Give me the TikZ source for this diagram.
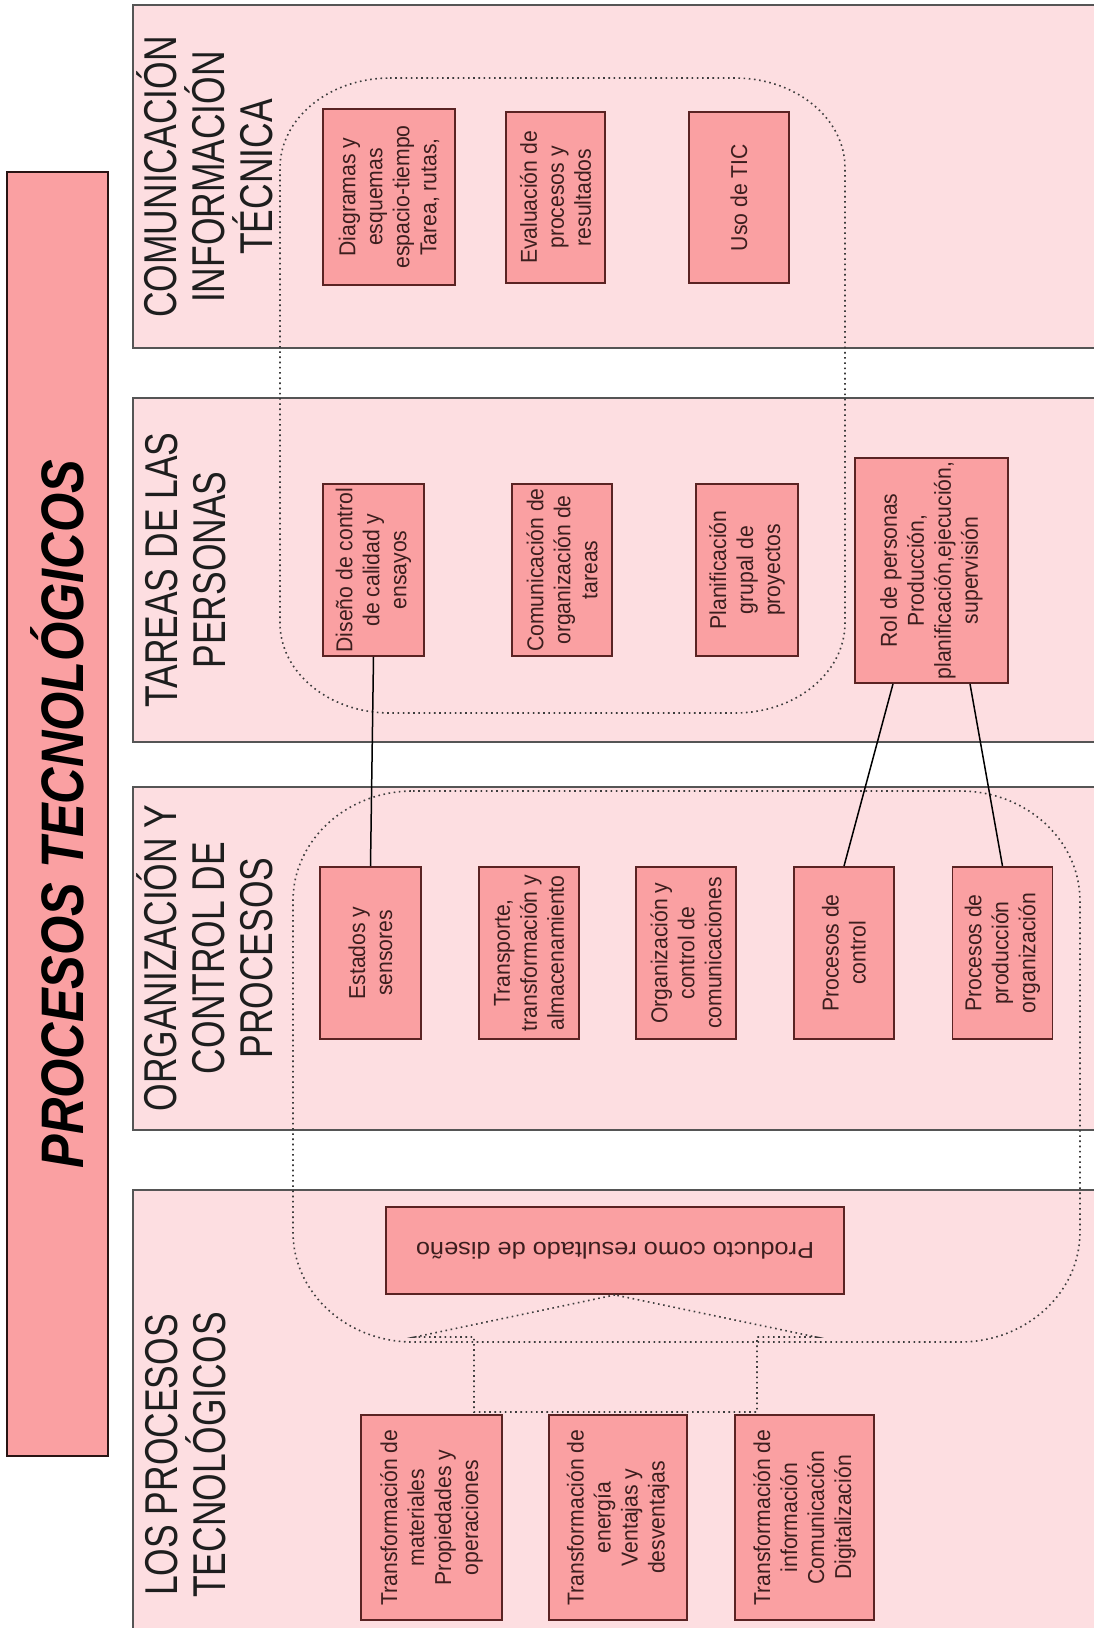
\documentclass[tikz,border=0pt]{standalone}
\usepackage{fontspec}
\setmainfont{Liberation Sans}
\newfontfamily\boxfont{Liberation Sans}[FakeStretch=0.92]
\newfontfamily\headfont{Liberation Sans}[FakeStretch=0.77]
\newfontfamily\titlefont{Liberation Sans}[FakeStretch=0.84]
\newfontfamily\prodfont{Liberation Sans}[FakeStretch=1.1]
\usetikzlibrary{calc}

\definecolor{panelfill}{RGB}{253,222,225}
\definecolor{panelline}{RGB}{85,85,85}
\definecolor{itemfill}{RGB}{250,160,162}
\definecolor{itemline}{RGB}{90,35,35}
\definecolor{itemtext}{RGB}{60,30,30}
\definecolor{dotcol}{RGB}{60,60,60}

\begin{document}
\begin{tikzpicture}[x=1pt,y=-1pt,
  panel/.style={draw=panelline, line width=2pt, fill=panelfill},
  item/.style={draw=itemline, line width=1.8pt, fill=itemfill, rotate=90,
    inner sep=0pt, align=center, text=itemtext,
    font=\boxfont\fontsize{23}{27}\selectfont},
  head/.style={rotate=90, anchor=north, inner sep=0pt, align=center,
    text={rgb,255:red,30;green,30;blue,30},
    font=\headfont\fontsize{46}{48}\selectfont},
  link/.style={draw=black, line width=1.5pt},
  dots/.style={draw=dotcol, line width=1.6pt, dash pattern=on 1.6pt off 3.6pt},
]
\useasboundingbox (0,0) rectangle (1094,1628);
\clip (0,0) rectangle (1094,1628);
\fill[white] (0,0) rectangle (1094,1628);

% title band
\node[draw={rgb,255:red,40;green,20;blue,20}, line width=2pt, fill=itemfill,
  rotate=90, minimum width=1284pt, minimum height=101pt, inner sep=0pt,
  font=\titlefont\bfseries\itshape\fontsize{60}{60}\selectfont]
  (title) at (57.5,814) {PROCESOS TECNOLÓGICOS};

% the four panels (open towards the right edge)
\draw[panel] (133,5) rectangle (1110,348);
\draw[panel] (133,398) rectangle (1110,742);
\draw[panel] (133,787) rectangle (1110,1130);
\draw[panel] (133,1190) rectangle (1110,1640);

% panel headings
\node[head] (h1) at (136,177) {COMUNICACIÓN\\INFORMACIÓN\\TÉCNICA};
\node[head] (h2) at (145,570) {TAREAS DE LAS\\PERSONAS};
\node[head] (h3) at (136,958) {ORGANIZACIÓN Y\\CONTROL DE\\PROCESOS};
\node[head] (h4) at (145,1455) {LOS PROCESOS\\TECNOLÓGICOS};

% dotted groupings
\draw[dots] (390,78) -- (735,78) .. controls (795.8,78) and (845,118.3) .. (845,168)
  -- (845,623) .. controls (845,672.7) and (795.8,713) .. (735,713)
  -- (390,713) .. controls (329.2,713) and (280,672.7) .. (280,623)
  -- (280,168) .. controls (280,118.3) and (329.2,78) .. (390,78) -- cycle;
\draw[dots] (413,791) -- (960,791) .. controls (1026.3,791) and (1080,840.2) .. (1080,901)
  -- (1080,1232) .. controls (1080,1292.8) and (1026.3,1342) .. (960,1342)
  -- (413,1342) .. controls (346.7,1342) and (293,1292.8) .. (293,1232)
  -- (293,901) .. controls (293,840.2) and (346.7,791) .. (413,791) -- cycle;

% boxes: communication
\node[item, minimum width=176pt, minimum height=132pt] (diag) at (389,197)
  {Diagramas y\\esquemas\\espacio-tiempo\\Tarea, rutas,};
\node[item, minimum width=171pt, minimum height=99pt] (eval) at (555.5,197.5)
  {Evaluación de\\procesos y\\resultados};
\node[item, minimum width=171pt, minimum height=100pt] (tic) at (739,197.5)
  {Uso de TIC};

% boxes: people's tasks
\node[item, minimum width=172pt, minimum height=101pt] (diseno) at (373.5,570)
  {Diseño de control\\de calidad y\\ensayos};
\node[item, minimum width=172pt, minimum height=100pt] (comorg) at (562,570)
  {Comunicación de\\organización de\\tareas};
\node[item, minimum width=172pt, minimum height=102pt] (plan) at (747,570)
  {Planificación\\grupal de\\proyectos};
\node[item, minimum width=225pt, minimum height=153pt] (rol) at (931.5,570.5)
  {Rol de personas\\Producción,\\planificación,ejecución,\\supervisión};

% boxes: process organisation and control
\node[item, minimum width=172pt, minimum height=101pt] (estados) at (370.5,953)
  {Estados y\\sensores};
\node[item, minimum width=172pt, minimum height=100pt] (transp) at (529,953)
  {Transporte,\\transformación y\\almacenamiento};
\node[item, minimum width=172pt, minimum height=100pt] (orgcom) at (686,953)
  {Organización y\\control de\\comunicaciones};
\node[item, minimum width=172pt, minimum height=100pt] (control) at (844,953)
  {Procesos de\\control};
\node[item, minimum width=172pt, minimum height=100pt] (produc) at (1002.5,953)
  {Procesos de\\producción\\organización};

% boxes: technological processes
\node[item, rotate=90, minimum width=458pt, minimum height=87pt,
  font=\prodfont\fontsize{23}{27}\selectfont] (producto) at (615,1250.5)
  {Producto como resultado de diseño};
\node[item, minimum width=205pt, minimum height=141pt] (tmat) at (431.5,1517.5)
  {Transformación de\\materiales\\Propiedades y\\operaciones};
\node[item, minimum width=205pt, minimum height=138pt] (tene) at (618,1517.5)
  {Transformación de\\energía\\Ventajas y\\desventajas};
\node[item, minimum width=205pt, minimum height=139pt] (tinf) at (804.5,1517.5)
  {Transformación de\\información\\Comunicación\\Digitalización};

% callout from the product down to the three transformations
\draw[dots] (producto.north) -- (415,1337) -- (474,1337) -- (474,1412)
  -- (757,1412) -- (757,1337) -- (816,1337) -- cycle;

% solid links
\draw[link] (diseno.west) -- (estados.east);
\draw[link] ([xshift=-38.5pt]rol.west) -- (control.east);
\draw[link] ([xshift=38.5pt]rol.west) -- (produc.east);
\end{tikzpicture}
\end{document}
